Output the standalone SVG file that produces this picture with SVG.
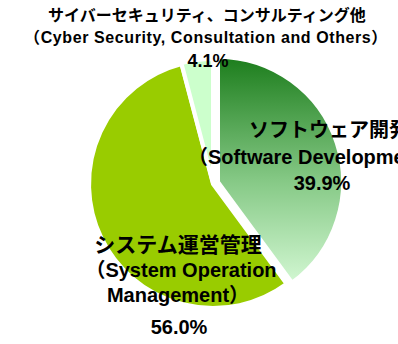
<svg xmlns="http://www.w3.org/2000/svg" width="398" height="344" viewBox="0 0 398 344">
<defs>
<linearGradient id="gSoft" x1="0" y1="0" x2="0" y2="1">
<stop offset="0" stop-color="#1c7d1c"/>
<stop offset="0.55" stop-color="#86c986"/>
<stop offset="1" stop-color="#d2f7d2"/>
</linearGradient>
</defs>
<style>
.slice{stroke:#ffffff;stroke-width:4;stroke-linejoin:miter}
.ja{font-family:"Noto Sans CJK JP","Liberation Sans",sans-serif;font-weight:bold;fill:#000}
.en{font-family:"Liberation Sans","Noto Sans CJK JP",sans-serif;font-weight:bold;fill:#000}
</style>
<rect width="398" height="344" fill="#ffffff"/>
<g id="slice-software">
<path class="slice" fill="url(#gSoft)" d="M218,182 L218,57 A125,125 0 0 1 292.1,282.7 Z"/>
</g>
<g id="slice-system">
<path class="slice" fill="#99cc00" d="M213,184 L286.5,283.9 A124,124 0 1 1 181.4,64.1 Z"/>
</g>
<g id="slice-others">
<path class="slice" fill="#ccffcc" d="M213,183 L181.4,63.1 A124,124 0 0 1 213,59 Z"/>
</g>
<g id="label-others">
<text class="ja" x="207" y="21" font-size="16" text-anchor="middle">サイバーセキュリティ、コンサルティング他</text>
<text class="en" x="206" y="43" font-size="16" letter-spacing="0.6" text-anchor="middle">（Cyber Security, Consultation and Others）</text>
<text class="en" x="208" y="67" font-size="18" text-anchor="middle">4.1%</text>
</g>
<g id="label-software">
<text class="ja" x="249" y="137" font-size="20">ソフトウェア開発</text>
<text class="en" x="188" y="164" font-size="20">（Software Development）</text>
<text class="en" x="322" y="190" font-size="20" text-anchor="middle">39.9%</text>
</g>
<g id="label-system">
<text class="ja" x="178" y="252" font-size="21" text-anchor="middle">システム運営管理</text>
<text class="en" x="181" y="277" font-size="20" text-anchor="middle">（System Operation</text>
<text class="en" x="178" y="302" font-size="20" text-anchor="middle">Management）</text>
<text class="en" x="179" y="334" font-size="20" text-anchor="middle">56.0%</text>
</g>
</svg>
